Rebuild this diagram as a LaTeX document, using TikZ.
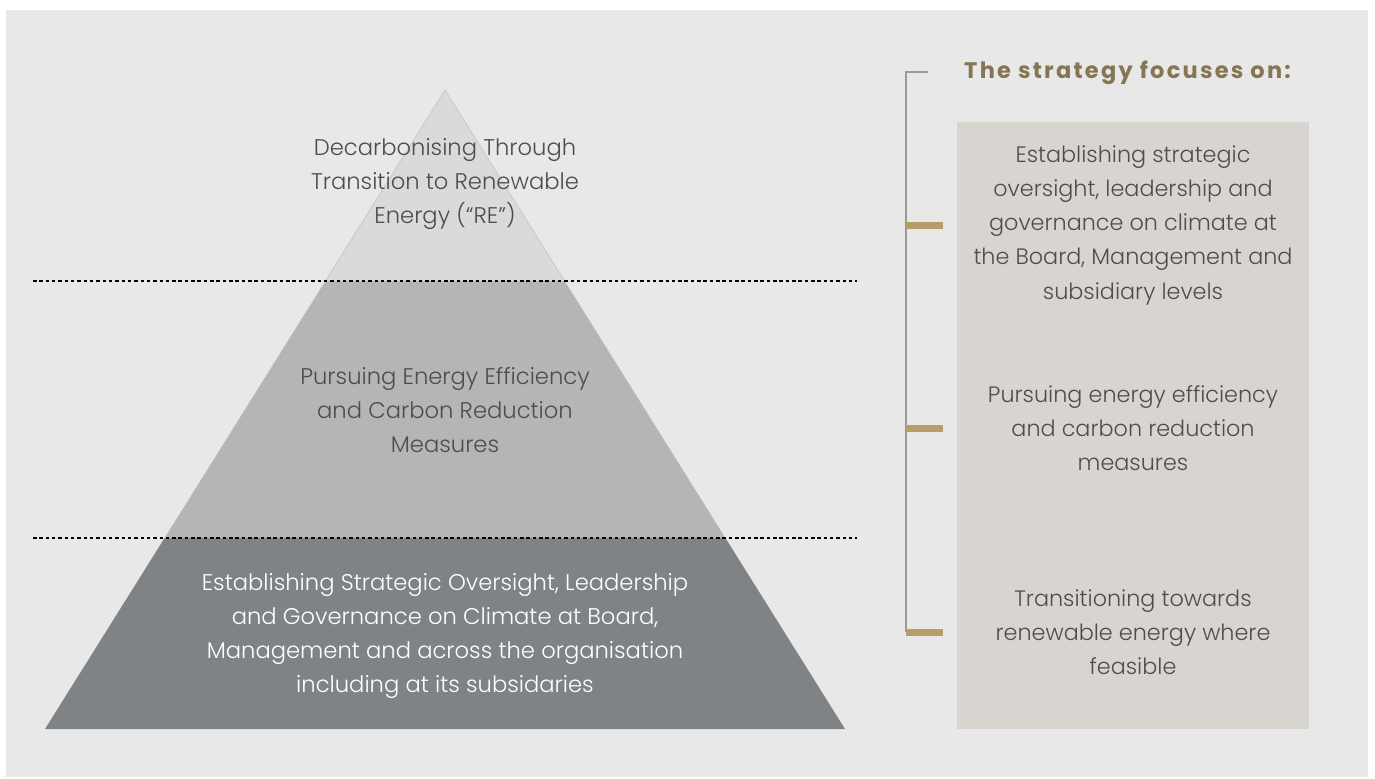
\documentclass[tikz,border=0pt]{standalone}
\usepackage{fontspec}
\setmainfont{Poppins}[UprightFont=* Light, BoldFont=* SemiBold]
\newfontfamily\headfont{Poppins}[UprightFont=* Bold, LetterSpace=10]
\usetikzlibrary{positioning}
\definecolor{panelgrey}{HTML}{E8E8E8}
\definecolor{tiertop}{HTML}{DADADA}
\definecolor{tiermid}{HTML}{B5B5B5}
\definecolor{tierbase}{HTML}{808385}
\definecolor{sidebox}{HTML}{D8D5D0}
\definecolor{goldbar}{HTML}{B89C6C}
\definecolor{headbrown}{HTML}{857552}
\definecolor{bodytext}{HTML}{4D4D4D}

\begin{document}
\begin{tikzpicture}[x=0.02cm, y=-0.02cm,
    tiertext/.style={align=center, text=bodytext, font=\fontsize{12.9}{19.4}\selectfont},
    sidetext/.style={align=center, text=bodytext, font=\fontsize{12.7}{19.5}\selectfont},
    tierline/.style={line width=0.6pt, dash pattern=on 2pt off 1.6pt},
    marker/.style={fill=goldbar}]
  \useasboundingbox (0,0) rectangle (1375,778);
  % Hintergrund
  \fill[panelgrey] (6,10) rectangle (1368,777);

  % Pyramide: drei Stufen
  \fill[tierbase] (45,729) -- (845,729) -- (725.4,538) -- (164.6,538) -- cycle;
  \fill[tiermid] (164.6,538) -- (725.4,538) -- (564.6,281) -- (325.4,281) -- cycle;
  \fill[tiertop] (325.4,281) -- (445,90) -- (564.6,281) -- cycle;
  \draw[tiertop!88!black, line width=0.3pt] (325.4,281) -- (445,90) -- (564.6,281);

  % Trennlinien
  \draw[tierline] (33,281) -- (857,281);
  \draw[tierline] (33,538) -- (857,538);

  % Texte der Stufen
  \node[tiertext] (tierA) at (445,184) {Decarbonising Through\\Transition to Renewable\\Energy (“RE”)};
  \node[tiertext] (tierB) at (445,410) {Pursuing Energy Efficiency\\and Carbon Reduction\\Measures};
  \node[tiertext, text=white] (tierC) at (445,636) {Establishing Strategic Oversight, Leadership\\and Governance on Climate at Board,\\Management and across the organisation\\including at its subsidaries};

  % Rechte Spalte
  \node[text=headbrown, font=\headfont\fontsize{12.8}{14}\selectfont, anchor=west] (focus) at (958,73) {The strategy focuses on:};
  \fill[sidebox] (957,122) rectangle (1309,729);
  \node[sidetext] (focusA) at (1133,225) {Establishing strategic\\oversight, leadership and\\governance on climate at\\the Board, Management and\\subsidiary levels};
  \node[sidetext] (focusB) at (1133,428) {Pursuing energy efficiency\\and carbon reduction\\measures};
  \node[sidetext] (focusC) at (1133,632) {Transitioning towards\\renewable energy where\\feasible};

  % Klammer mit Markierungen
  \draw[gray!80, line width=0.6pt] (928,72) -- (906,72) -- (906,632);
  \foreach \ypos in {225,428,632}
    \fill[marker] (906,\ypos-3.5) rectangle (943,\ypos+3.5);
\end{tikzpicture}
\end{document}
